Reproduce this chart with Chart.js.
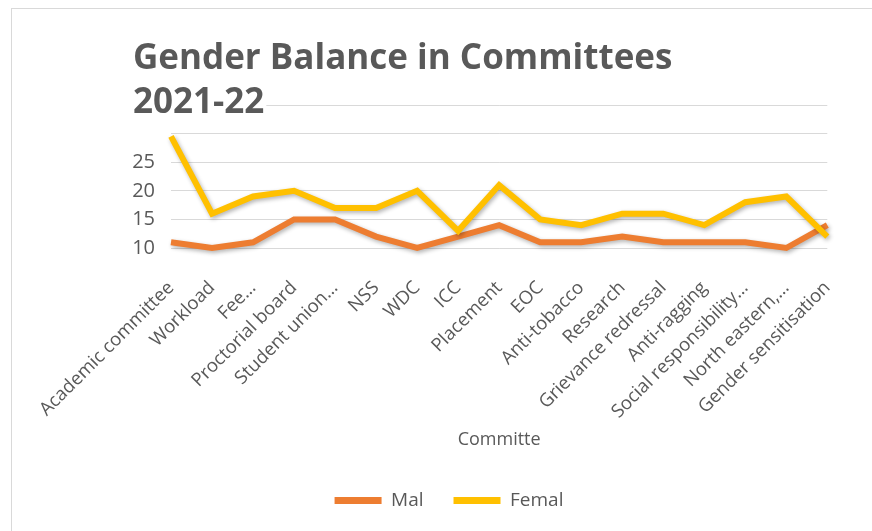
<!DOCTYPE html>
<html>
<head>
<meta charset="utf-8">
<script src="https://cdn.jsdelivr.net/npm/chart.js@4.4.0/dist/chart.umd.min.js"></script>
<style>
  html, body { margin: 0; padding: 0; background: #ffffff; }
  #frame { position: absolute; left: 11px; top: 8px; width: 900px; height: 560px; border: 1px solid #d9d9d9; box-sizing: border-box; }
  #wrap { position: absolute; left: 0; top: 0; width: 872px; height: 531px; }
</style>
</head>
<body>
<div id="frame"></div>
<div id="wrap"><canvas id="c" width="872" height="531"></canvas></div>
<script>
const categories = ["Academic committee", "Workload", "Fee…", "Proctorial board", "Student union…", "NSS", "WDC", "ICC", "Placement", "EOC", "Anti-tobacco", "Research", "Grievance redressal", "Anti-ragging", "Social responsibility…", "North eastern,…", "Gender sensitisation"];
const maleValues = [11, 10, 11, 15, 15, 12, 10, 12, 14, 11, 11, 12, 11, 11, 11, 10, 14];
const femaleValues = [29.5, 16, 19, 20, 17, 17, 20, 13, 21, 15, 14, 16, 16, 14, 18, 19, 12];
const seriesNames = ["Mal", "Femal"];
const titleLines = ["Gender Balance in Committees", "2021-22"];
const axisTitle = "Committe";
const yTickLabels = [10, 15, 20, 25];

const TXT = '#595959';
const FONT = '"Open Sans", sans-serif';

const shadowPlugin = {
  id: 'shadow',
  beforeDatasetDraw(chart) {
    const ctx = chart.ctx;
    ctx.save();
    ctx.shadowColor = 'rgba(0,0,0,0.30)';
    ctx.shadowBlur = 4;
    ctx.shadowOffsetX = 1.5;
    ctx.shadowOffsetY = 2;
  },
  afterDatasetDraw(chart) { chart.ctx.restore(); }
};

const titlePlugin = {
  id: 'bigTitle',
  afterDraw(chart) {
    const ctx = chart.ctx;
    ctx.save();
    ctx.font = 'bold 35px ' + FONT;
    ctx.textBaseline = 'alphabetic';
    const x = 133, ys = [69, 113];
    titleLines.forEach((t, i) => {
      const w = ctx.measureText(t).width;
      ctx.fillStyle = '#ffffff';
      ctx.fillRect(x - 2, ys[i] - 30, w + 4, 38);
      ctx.fillStyle = TXT;
      ctx.fillText(t, x, ys[i]);
    });
    ctx.restore();
  }
};

new Chart(document.getElementById('c'), {
  type: 'line',
  data: {
    labels: categories,
    datasets: [
      { label: seriesNames[0], data: maleValues, borderColor: '#ED7D31', backgroundColor: '#ED7D31', order: 1 },
      { label: seriesNames[1], data: femaleValues, borderColor: '#FFC000', backgroundColor: '#FFC000', order: 0 }
    ]
  },
  options: {
    responsive: false,
    animation: false,
    devicePixelRatio: 1,
    layout: { padding: { left: 61, right: 35, top: 105, bottom: 11 } },
    elements: {
      line: { borderWidth: 6, tension: 0, borderJoinStyle: 'miter' },
      point: { radius: 0, hoverRadius: 0 }
    },
    datasets: { line: { clip: false } },
    scales: {
      x: {
        offset: false,
        grid: { display: false, drawTicks: false },
        border: { display: false },
        ticks: { color: TXT, font: { family: FONT, size: 18.5 }, maxRotation: 45, minRotation: 45, autoSkip: false, padding: 29 },
        title: { display: true, text: axisTitle, color: TXT, font: { family: FONT, size: 18 }, padding: { top: 0, bottom: 10 } },
        afterFit(s) { s.height = 213; }
      },
      y: {
        min: 10, max: 35,
        grid: { color: '#d9d9d9', lineWidth: 1, drawTicks: false },
        border: { display: false },
        ticks: {
          stepSize: 5, autoSkip: false, color: TXT, font: { family: FONT, size: 20 }, padding: 16,
          callback: v => (yTickLabels.includes(v) ? String(v) : '')
        },
        afterFit(s) { s.width = 110; }
      }
    },
    plugins: {
      legend: {
        position: 'bottom',
        labels: {
          color: TXT, font: { family: FONT, size: 19 }, boxWidth: 47, boxHeight: 7, padding: 30,
          generateLabels(chart) {
            return chart.data.datasets.map((d, i) => ({
              text: d.label, fillStyle: d.borderColor, strokeStyle: d.borderColor, lineWidth: 0,
              fontColor: TXT, datasetIndex: i, hidden: false
            }));
          }
        }
      },
      tooltip: { enabled: false },
      title: { display: false }
    }
  },
  plugins: [shadowPlugin, titlePlugin]
});
</script>
</body>
</html>
